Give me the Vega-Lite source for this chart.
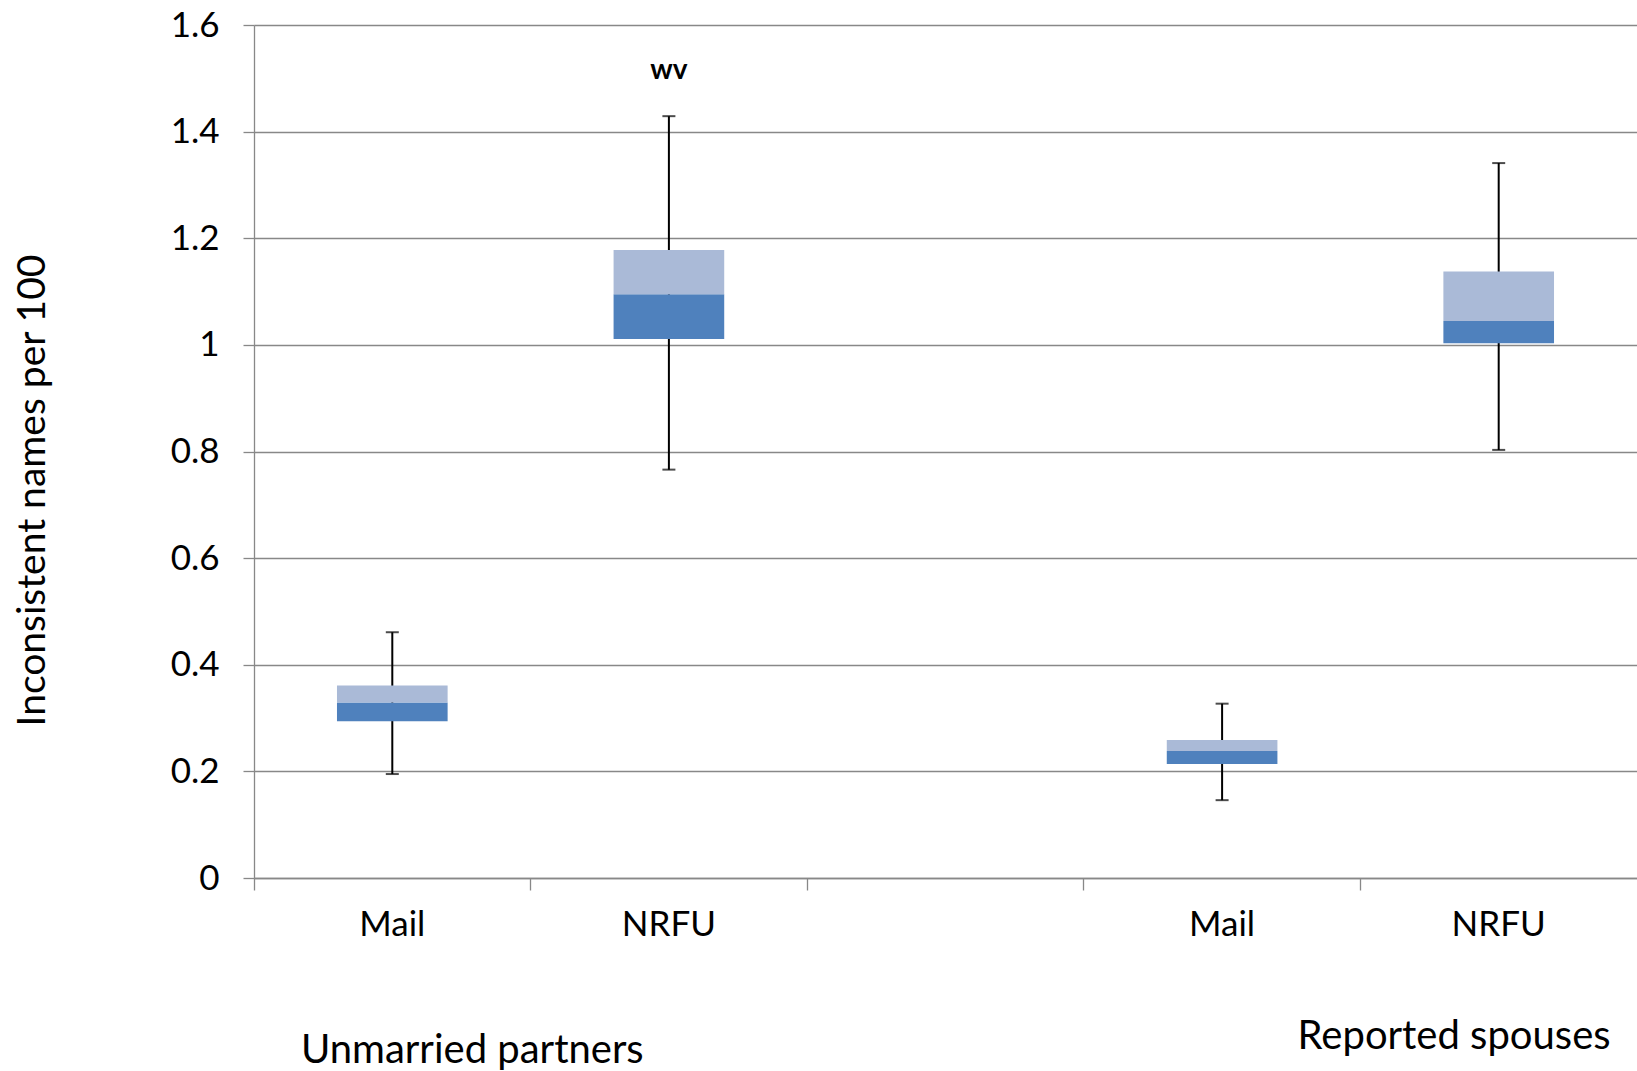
{
  "$schema": "https://vega.github.io/schema/vega-lite/v6.json",
  "width": 1383,
  "height": 853,
  "autosize": "none",
  "padding": {"left": 254, "top": 25, "right": 0, "bottom": 193},
  "background": "white",
  "config": {
    "view": {"stroke": null},
    "font": "Lato",
    "axis": {"labelFont": "Lato", "titleFont": "Lato", "labelColor": "#000", "titleColor": "#000"}
  },
  "datasets": {
    "boxes": [
      {"cat": "UP|Mail", "low": 0.195, "q1": 0.294, "median": 0.329, "q3": 0.361, "high": 0.461, "note": ""},
      {"cat": "UP|NRFU", "low": 0.766, "q1": 1.011, "median": 1.095, "q3": 1.178, "high": 1.429, "note": "wv"},
      {"cat": "RS|Mail", "low": 0.146, "q1": 0.214, "median": 0.238, "q3": 0.259, "high": 0.327, "note": ""},
      {"cat": "RS|NRFU", "low": 0.803, "q1": 1.003, "median": 1.045, "q3": 1.1375, "high": 1.341, "note": ""}
    ],
    "groups": [
      {"cat": "UP|Mail", "group": "Unmarried partners"},
      {"cat": "RS|Mail", "group": "Reported  spouses"}
    ]
  },
  "data": {"name": "boxes"},
  "encoding": {
    "x": {
      "field": "cat",
      "type": "nominal",
      "scale": {"domain": ["UP|Mail", "UP|NRFU", "gap", "RS|Mail", "RS|NRFU"], "paddingInner": 0, "paddingOuter": 0},
      "axis": {
        "title": null,
        "labelExpr": "indexof(datum.value, '|') > 0 ? split(datum.value, '|')[1] : ''",
        "labelAngle": 0,
        "labelFontSize": 35,
        "labelPadding": 17,
        "bandPosition": 0,
        "domainColor": "#888",
        "domainWidth": 1.3,
        "tickColor": "#888",
        "tickWidth": 1.3,
        "tickSize": 12,
        "grid": false
      }
    }
  },
  "layer": [
    {
      "mark": {"type": "rule", "color": "#000", "strokeWidth": 2},
      "encoding": {
        "y": {
          "field": "low",
          "type": "quantitative",
          "title": "Inconsistent names per 100",
          "scale": {"domain": [0, 1.6], "nice": false},
          "axis": {
            "values": [0, 0.2, 0.4, 0.6, 0.8, 1, 1.2, 1.4, 1.6],
            "format": "~g",
            "labelFontSize": 35,
            "labelPadding": 24,
            "titleFontSize": 39,
            "titleFontWeight": "normal",
            "titlePadding": 118,
            "titleY": 465,
            "domainColor": "#888",
            "domainWidth": 1.3,
            "tickColor": "#888",
            "tickWidth": 1.3,
            "tickSize": 11,
            "grid": true,
            "gridColor": "#888",
            "gridWidth": 1.3
          }
        },
        "y2": {"field": "high"}
      }
    },
    {
      "mark": {"type": "tick", "color": "#000", "thickness": 2, "size": 13},
      "encoding": {
        "y": {"field": "high", "type": "quantitative"}
      }
    },
    {
      "mark": {"type": "tick", "color": "#000", "thickness": 2, "size": 13},
      "encoding": {
        "y": {"field": "low", "type": "quantitative"}
      }
    },
    {
      "mark": {"type": "bar", "color": "#4F81BD", "width": {"band": 0.4}},
      "encoding": {
        "y": {"field": "q1", "type": "quantitative"},
        "y2": {"field": "median"}
      }
    },
    {
      "mark": {"type": "bar", "color": "#AABAD7", "width": {"band": 0.4}},
      "encoding": {
        "y": {"field": "median", "type": "quantitative"},
        "y2": {"field": "q3"}
      }
    },
    {
      "mark": {"type": "text", "fontSize": 28, "fontWeight": "bold", "color": "#000", "baseline": "middle", "dy": -45},
      "encoding": {
        "y": {"field": "high", "type": "quantitative"},
        "text": {"field": "note"}
      }
    },
    {
      "data": {"name": "groups"},
      "transform": [{"filter": "datum.cat === 'UP|Mail'"}],
      "mark": {"type": "text", "fontSize": 40, "color": "#000", "baseline": "middle", "align": "center", "dx": 80, "clip": false},
      "encoding": {
        "y": {"datum": -0.325, "type": "quantitative"},
        "text": {"field": "group"}
      }
    },
    {
      "data": {"name": "groups"},
      "transform": [{"filter": "datum.cat === 'RS|Mail'"}],
      "mark": {"type": "text", "fontSize": 40, "color": "#000", "baseline": "middle", "align": "center", "dx": 232, "clip": false},
      "encoding": {
        "y": {"datum": -0.298, "type": "quantitative"},
        "text": {"field": "group"}
      }
    }
  ]
}
